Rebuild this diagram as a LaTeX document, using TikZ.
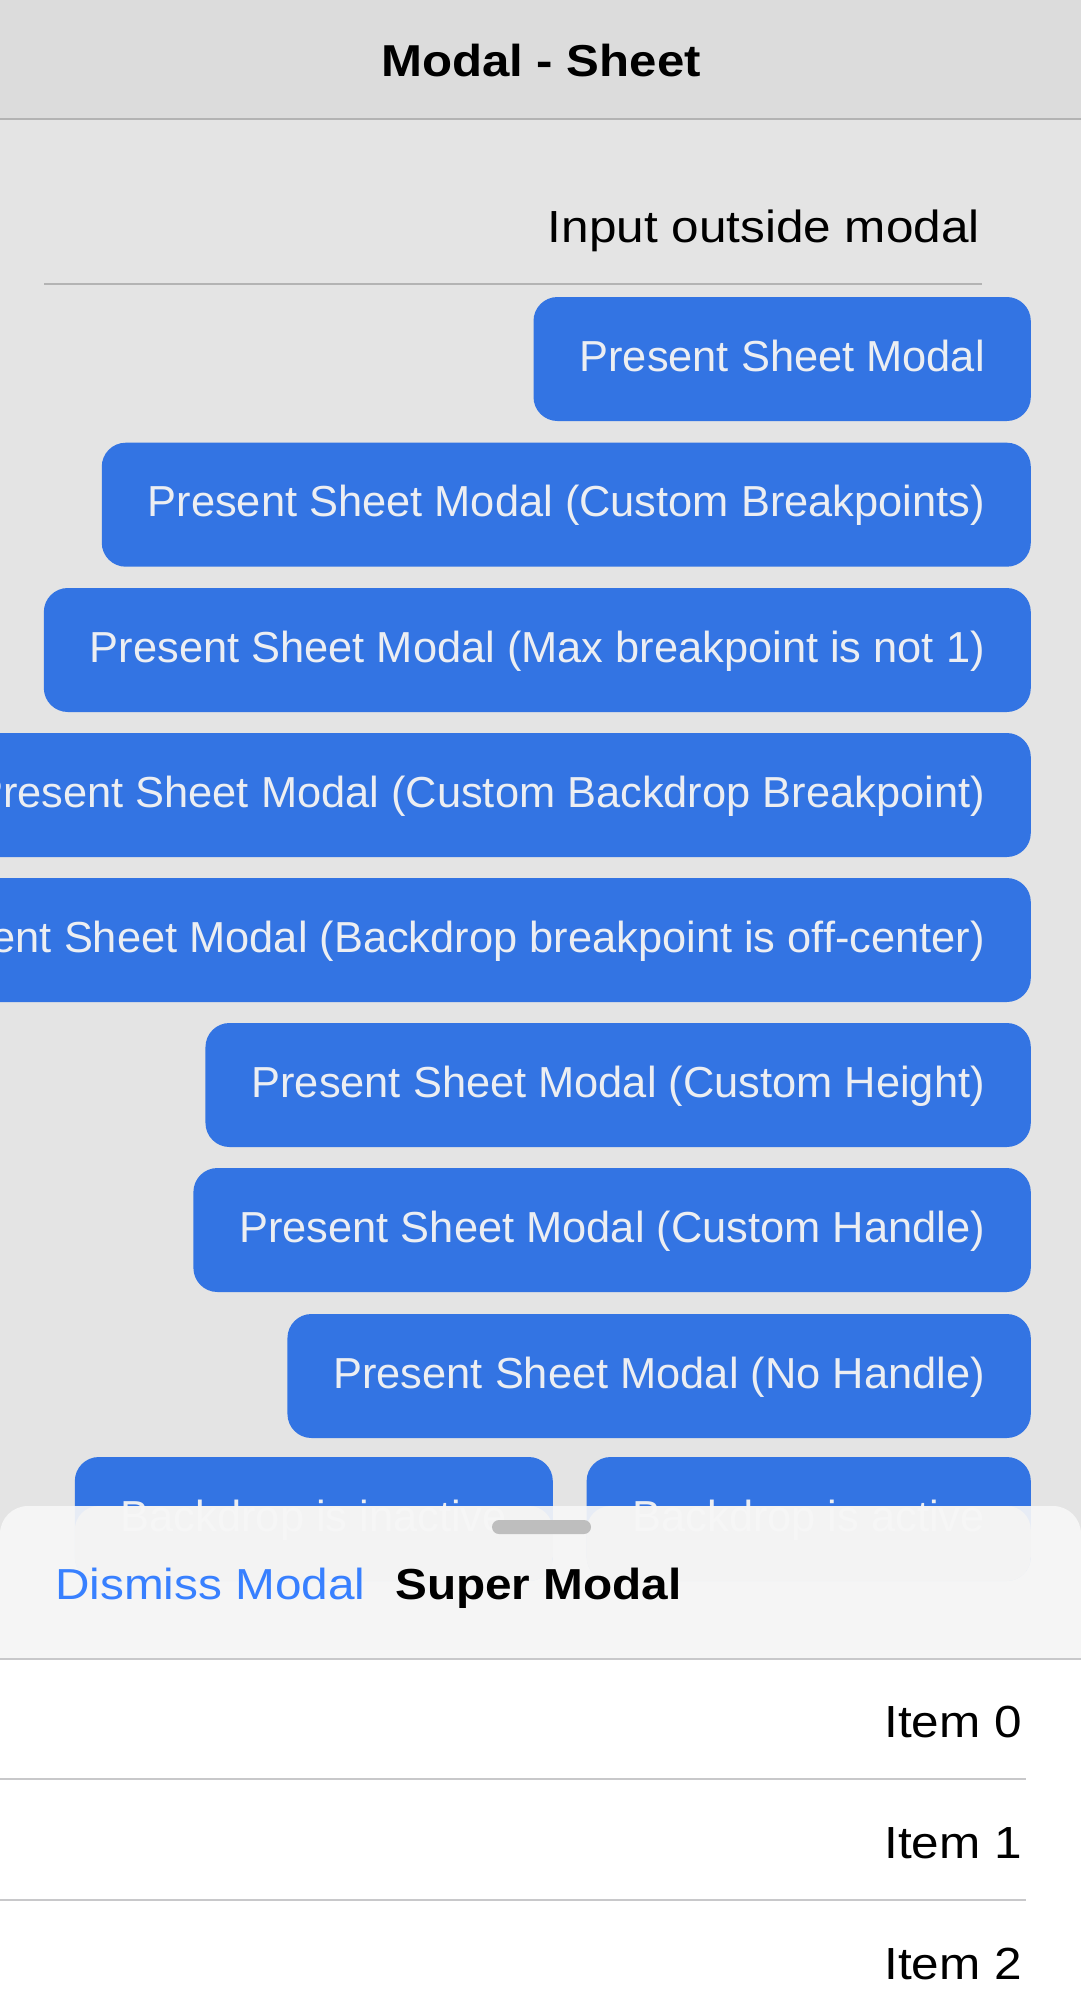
\documentclass[tikz,border=0pt]{standalone}
\usepackage{fontspec}
\setmainfont{Liberation Sans}
\newfontfamily\widesans{Liberation Sans}[FakeStretch=1.1]
\definecolor{pagebg}{HTML}{E4E4E4}
\definecolor{hdrbg}{HTML}{DCDCDC}
\definecolor{hdrline}{HTML}{B3B3B3}
\definecolor{btnblue}{HTML}{3374E3}
\definecolor{btntext}{HTML}{ECEEF2}
\definecolor{sheetbg}{HTML}{F7F7F7}
\definecolor{sheetline}{HTML}{C8C8CA}
\definecolor{handlegray}{HTML}{BEBEBE}
\definecolor{linkblue}{HTML}{3880FF}
\definecolor{fadegray}{HTML}{C8C8C8}
\newcommand\btnfont{\fontsize{43.4}{50}\selectfont}
\newcommand\bigwide{\widesans\fontsize{45}{52}\selectfont}
\newcommand\midwide{\widesans\fontsize{43.4}{50}\selectfont}
\begin{document}
\begin{tikzpicture}[x=1pt,y=-1pt,
  btn/.style={fill=btnblue, text=btntext, rounded corners=24pt, inner xsep=46pt,
    inner ysep=43pt, text height=31pt, text depth=7pt, anchor=base east, font=\btnfont},
  hiddenbtn/.style={btn, path picture={\fill[fadegray] ([yshift=-49pt]path picture bounding box.north west) rectangle (path picture bounding box.south east);}},
  plain/.style={inner sep=0pt},
  sepline/.style={line width=2.5pt, draw=hdrline},
  itemline/.style={line width=2.5pt, draw=sheetline}]
\useasboundingbox (0,0) rectangle (1081,1999);
\clip (0,0) rectangle (1081,1999);
\fill[pagebg] (0,0) rectangle (1081,1999);
% top bar
\fill[hdrbg] (0,0) rectangle (1081,119);
\coordinate (hdrL) at (0,119);
\coordinate (hdrR) at (1081,119);
\draw[sepline] (hdrL) -- (hdrR);
\node[plain, anchor=base, font={\widesans\bfseries\fontsize{44.7}{52}\selectfont}] (title) at (541,77) {Modal - Sheet};
% input
\node[plain, anchor=base east, font=\bigwide] (input) at (980,242) {Input outside modal};
\coordinate (inL) at (44,284.3);
\coordinate (inR) at (982,284.3);
\draw[sepline, line width=2.3pt] (inL) -- (inR);
% buttons
\node[btn] (b1) at (1031,371) {Present Sheet Modal};
\node[btn] (b2) at (1031,516.7) {Present Sheet Modal (Custom Breakpoints)};
\node[btn] (b3) at (1031,662) {Present Sheet Modal (Max breakpoint is not 1)};
\node[btn] (b4) at (1031,807) {Present Sheet Modal (Custom Backdrop Breakpoint)};
\node[btn] (b5) at (1031,952) {Present Sheet Modal (Backdrop breakpoint is off-center)};
\node[btn] (b6) at (1031,1097) {Present Sheet Modal (Custom Height)};
\node[btn] (b7) at (1031,1242) {Present Sheet Modal (Custom Handle)};
\node[btn] (b8) at (1031,1388) {Present Sheet Modal (No Handle)};
\node[hiddenbtn] (b9) at (553,1531) {Backdrop is inactive};
\node[hiddenbtn] (b10) at (1031,1531) {Backdrop is active};
% sheet
\fill[sheetbg, opacity=0.92] (0,1660) -- (0,1534) .. controls (0,1518.5) and (12.5,1506) .. (28,1506)
  -- (1053,1506) .. controls (1068.5,1506) and (1081,1518.5) .. (1081,1534) -- (1081,1660) -- cycle;
\node[fill=handlegray, minimum width=99pt, minimum height=14pt, rounded corners=7pt, inner sep=0pt] (handle) at (541.5,1527) {};
\node[plain, anchor=base west, text=linkblue, font=\midwide] (dismiss) at (55,1599) {Dismiss Modal};
\node[plain, anchor=base west, font={\widesans\bfseries\fontsize{43.4}{50}\selectfont}] (super) at (395,1599) {Super Modal};
\fill[white] (0,1660) rectangle (1081,1999);
\coordinate (shL) at (0,1659);
\coordinate (shR) at (1081,1659);
\draw[itemline] (shL) -- (shR);
% items
\node[plain, anchor=base east, font=\bigwide] (i0) at (1022,1737) {Item 0};
\coordinate (s1L) at (0,1779);
\coordinate (s1R) at (1026,1779);
\draw[itemline] (s1L) -- (s1R);
\node[plain, anchor=base east, font=\bigwide] (i1) at (1022,1858) {Item 1};
\coordinate (s2L) at (0,1900);
\coordinate (s2R) at (1026,1900);
\draw[itemline] (s2L) -- (s2R);
\node[plain, anchor=base east, font=\bigwide] (i2) at (1022,1979) {Item 2};
\end{tikzpicture}
\end{document}
